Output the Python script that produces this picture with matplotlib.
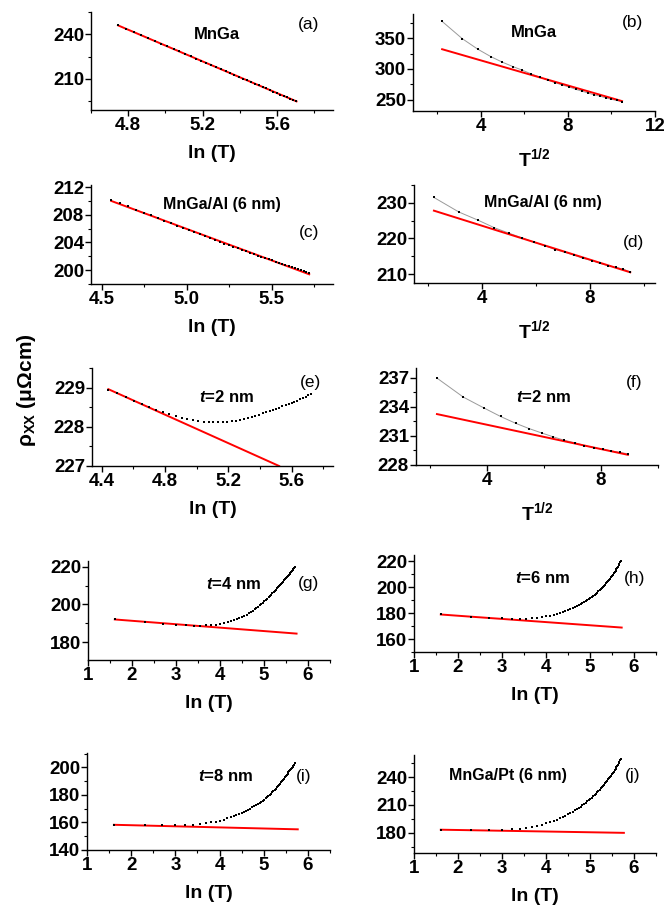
import numpy as np
import matplotlib
matplotlib.use('Agg')
import matplotlib.pyplot as plt
from matplotlib.ticker import MultipleLocator

plt.rcParams.update({
    'font.family': ['Liberation Sans', 'DejaVu Sans'],
    'font.weight': 'bold',
    'font.size': 13,
    'mathtext.fontset': 'custom',
    'mathtext.rm': 'Liberation Sans:bold',
    'mathtext.it': 'Liberation Sans:italic:bold',
    'mathtext.bf': 'Liberation Sans:bold',
    'axes.linewidth': 1.0,
})

# temperatures (K)
T_high = [85, 90, 95, 100, 105, 110, 115, 120, 125, 130, 135, 140, 145, 150,
          155, 160, 165, 170, 175, 180, 185, 190, 195, 200, 205, 210, 215,
          220, 225, 230, 235, 240, 245, 250, 255, 260, 265, 270, 275, 280,
          285, 290, 295, 300, 305]
T_low = [5, 10, 15, 20, 25, 30, 35, 40, 45, 50, 55, 60, 65, 70, 75, 80, 85,
         90, 95, 100, 105, 110]
T_full = [5, 10, 15, 20, 25, 30, 35, 40, 45, 50, 55, 60, 65, 70, 75, 80, 85,
          90, 95, 100, 105, 110, 115, 120, 125, 130, 135, 140, 145, 150, 155,
          160, 165, 170, 175, 180, 185, 190, 195, 200, 205, 210, 215, 220,
          225, 230, 235, 240, 245, 250, 255, 260, 265, 270, 275, 280, 285,
          290, 295, 300]

# (a) MnGa, T = 115..300
rho_a = [246.0, 243.7, 241.6, 239.5, 237.4, 235.5, 233.6, 231.8, 230.1,
         228.4, 226.7, 225.1, 223.6, 222.1, 220.6, 219.2, 217.8, 216.5,
         215.1, 213.9, 212.6, 211.4, 210.2, 209.0, 207.8, 206.7, 205.6,
         204.5, 203.5, 202.4, 201.4, 200.4, 199.4, 198.5, 197.5, 196.6,
         195.7, 194.8]
fit_a = ([4.745, 5.704], [246.0, 194.8])

# (b) MnGa, T = 5..110
rho_b = [377, 349, 332, 320, 311, 304, 298, 292, 287, 282, 278, 274, 271,
         267, 264, 261, 258, 256, 253, 251, 249, 247]
fit_b = ([2.236, 10.488], [332.0, 248.0])

# (c) MnGa/Al (6 nm), T = 95..305
rho_c = [210.2, 209.7, 209.2, 208.7, 208.3, 207.9, 207.5, 207.1, 206.8,
         206.4, 206.1, 205.8, 205.5, 205.2, 204.9, 204.6, 204.3, 204.1,
         203.8, 203.6, 203.4, 203.2, 202.9, 202.7, 202.5, 202.3, 202.1,
         201.9, 201.8, 201.6, 201.4, 201.2, 201.1, 200.9, 200.7, 200.6,
         200.4, 200.3, 200.1, 200.0, 199.9, 199.7, 199.6]
fit_c = ([4.554, 5.720], [210.0, 199.4])

# (d) MnGa/Al (6 nm), T = 5..90
rho_d = [231.5, 227.4, 225.1, 223.0, 221.5, 220.2, 219.0, 218.0, 216.9,
         216.1, 215.3, 214.4, 213.8, 213.0, 212.4, 211.9, 211.4, 210.6]
fit_d = ([2.236, 9.487], [227.8, 210.5])

# (e) t = 2 nm, T = 85..305
rho_e = [228.95, 228.85, 228.75, 228.66, 228.58, 228.50, 228.43, 228.37,
         228.32, 228.27, 228.23, 228.20, 228.17, 228.15, 228.13, 228.12,
         228.11, 228.11, 228.12, 228.13, 228.14, 228.16, 228.18, 228.20,
         228.22, 228.25, 228.28, 228.31, 228.34, 228.37, 228.40, 228.43,
         228.46, 228.49, 228.52, 228.55, 228.58, 228.61, 228.64, 228.67,
         228.71, 228.74, 228.77, 228.80, 228.84]
fit_e = ([4.443, 5.52], [228.96, 227.0])

# (f) t = 2 nm, T = 5..80
rho_f = [236.96, 235.0, 233.9, 233.0, 232.3, 231.75, 231.3, 230.9, 230.55,
         230.3, 230.0, 229.8, 229.6, 229.45, 229.3, 229.15]
fit_f = ([2.236, 8.944], [233.25, 229.05])

# (g)-(j), T = 5..300
rho_g = [192.0, 190.6, 189.6, 189.1, 188.8, 188.7, 188.7, 188.8, 189.0, 189.3,
         189.7, 190.1, 190.5, 191.0, 191.5, 192.0, 192.6, 193.2, 193.9, 194.6,
         195.3, 196.0, 196.7, 197.4, 198.1, 198.8, 199.5, 200.2, 200.9, 201.6,
         202.3, 203.0, 203.7, 204.4, 205.1, 205.8, 206.4, 207.1, 207.8, 208.5,
         209.1, 209.7, 210.3, 210.9, 211.5, 212.1, 212.7, 213.3, 213.9, 214.5,
         215.0, 215.5, 216.0, 216.6, 217.1, 217.6, 218.1, 218.6, 219.1, 219.6]
fit_g = ([1.609, 5.74], [192.0, 184.5])

rho_h = [179.0, 177.4, 176.5, 176.0, 175.8, 175.7, 175.8, 176.1, 176.5, 177.0,
         177.5, 178.1, 178.7, 179.4, 180.1, 180.8, 181.5, 182.3, 183.1, 183.9,
         184.7, 185.5, 186.3, 187.1, 187.9, 188.7, 189.5, 190.3, 191.1, 191.9,
         192.7, 193.5, 194.3, 195.1, 195.9, 196.8, 197.6, 198.5, 199.4, 200.3,
         201.2, 202.1, 203.0, 203.9, 204.8, 205.8, 206.8, 207.8, 208.8, 209.8,
         210.8, 211.8, 212.8, 213.9, 215.0, 216.1, 217.2, 218.3, 219.4, 220.5]
fit_h = ([1.609, 5.72], [179.0, 168.9])

rho_i = [158.2, 158.0, 158.0, 158.0, 158.2, 158.5, 158.9, 159.4, 160.0, 160.6,
         161.3, 162.1, 162.9, 163.7, 164.5, 165.3, 166.1, 166.9, 167.7, 168.5,
         169.3, 170.1, 170.9, 171.7, 172.5, 173.3, 174.1, 174.9, 175.7, 176.5,
         177.4, 178.3, 179.2, 180.1, 181.0, 181.9, 182.8, 183.7, 184.6, 185.5,
         186.4, 187.3, 188.2, 189.1, 190.0, 190.9, 191.8, 192.7, 193.6, 194.5,
         195.4, 196.3, 197.2, 198.0, 198.8, 199.6, 200.4, 201.2, 202.0, 202.8]
fit_i = ([1.609, 5.77], [158.3, 155.0])

rho_j = [183.2, 183.1, 183.1, 183.3, 183.7, 184.3, 185.1, 186.1, 187.3, 188.6,
         190.0, 191.4, 192.8, 194.2, 195.6, 197.0, 198.4, 199.8, 201.2, 202.6,
         204.0, 205.4, 206.8, 208.2, 209.6, 211.0, 212.4, 213.8, 215.2, 216.6,
         218.0, 219.4, 220.8, 222.2, 223.6, 225.0, 226.4, 227.8, 229.2, 230.6,
         232.0, 233.4, 234.8, 236.2, 237.6, 239.0, 240.4, 241.8, 243.2, 244.6,
         246.1, 247.6, 249.1, 250.6, 252.1, 253.6, 255.1, 256.6, 258.1, 259.6]
fit_j = ([1.609, 5.77], [183.2, 179.8])

W, H = 667, 909


def make_ax(fig, left, top, right, bottom):
    return fig.add_axes([left / W, 1 - bottom / H, (right - left) / W,
                         (bottom - top) / H])


def style(ax, xlim, ylim, xmaj, xmin, ymaj, ymin, xlabel):
    ax.set_xlim(*xlim)
    ax.set_ylim(*ylim)
    ax.xaxis.set_major_locator(MultipleLocator(xmaj))
    ax.xaxis.set_minor_locator(MultipleLocator(xmin))
    ax.yaxis.set_major_locator(MultipleLocator(ymaj))
    ax.yaxis.set_minor_locator(MultipleLocator(ymin))
    for s in ['top', 'right']:
        ax.spines[s].set_visible(False)
    ax.tick_params(which='major', direction='out', length=4, width=1,
                   labelsize=13.5, pad=1)
    ax.tick_params(which='minor', direction='out', length=2, width=0.8)
    ax.set_xlabel(xlabel, fontsize=14, fontweight='bold', labelpad=8)


def dots(ax, x, y, line=False, ms=1.6):
    if line:
        ax.plot(x, y, '-', color='#9a9a9a', lw=0.7, zorder=2)
    ax.plot(x, y, 's', color='black', ms=ms, mew=0, zorder=3)


def fit(ax, f):
    ax.plot(f[0], f[1], '-', color='red', lw=1.4, zorder=2.5)


def note(ax, x, y, txt, letter, lx, ly, fs=12):
    ax.text(x, y, txt, transform=ax.transAxes, ha='center', va='center',
            fontsize=fs, fontweight='bold')
    ax.text(lx, ly, letter, transform=ax.transAxes, ha='center',
            va='center', fontsize=12.5, fontweight='normal')


fig = plt.figure(figsize=(W / 100, H / 100), dpi=100)

lnT = r'ln (T)'
sqT = r'$\mathrm{T^{1/2}}$'

# (a)
ax = make_ax(fig, 91, 12, 333, 110)
fit(ax, fit_a)
dots(ax, np.log(T_high[6:44]), rho_a)
style(ax, (4.6, 5.9), (189, 255), 0.4, 0.2, 30, 15, lnT)
note(ax, 0.52, 0.77, 'MnGa', '(a)', 0.9, 0.87)

# (b)
ax = make_ax(fig, 413, 14, 655, 111)
fit(ax, fit_b)
dots(ax, np.sqrt(T_low), rho_b, line=True, ms=1.9)
style(ax, (0.9, 12), (232, 389), 4, 2, 50, 25, sqT)
note(ax, 0.5, 0.81, 'MnGa', '(b)', 0.905, 0.91)

# (c)
ax = make_ax(fig, 91, 185, 333, 284)
fit(ax, fit_c)
dots(ax, np.log(T_high[2:45]), rho_c)
style(ax, (4.435, 5.86), (198, 212.3), 0.5, 0.25, 4, 2, lnT)
note(ax, 0.54, 0.80, 'MnGa/Al (6 nm)', '(c)', 0.9, 0.52, fs=11.5)

# (d)
ax = make_ax(fig, 414, 185, 655, 283)
fit(ax, fit_d)
dots(ax, np.sqrt(T_low[:18]), rho_d, line=True, ms=1.9)
style(ax, (1.5, 10.4), (207.5, 235), 4, 2, 10, 5, sqT)
note(ax, 0.535, 0.82, 'MnGa/Al (6 nm)', '(d)', 0.91, 0.41, fs=11.5)

# (e)
ax = make_ax(fig, 92, 368, 333, 466)
fit(ax, fit_e)
dots(ax, np.log(T_high), rho_e, ms=1.8)
style(ax, (4.34, 5.86), (227, 229.5), 0.4, 0.2, 1, 0.5, lnT)
note(ax, 0.56, 0.70, r'$\mathit{t}$=2 nm', '(e)', 0.905, 0.85)

# (f)
ax = make_ax(fig, 416, 368, 658, 465)
fit(ax, fit_f)
dots(ax, np.sqrt(T_low[:16]), rho_f, line=True, ms=1.9)
style(ax, (1.5, 10.0), (228, 238), 4, 2, 3, 1.5, sqT)
note(ax, 0.525, 0.70, r'$\mathit{t}$=2 nm', '(f)', 0.9, 0.85)

# (g)
ax = make_ax(fig, 88, 561, 330, 660)
fit(ax, fit_g)
dots(ax, np.log(T_full), rho_g, ms=2.1)
style(ax, (1, 6.5), (170.5, 223), 1, 0.5, 20, 10, lnT)
note(ax, 0.6, 0.77, r'$\mathit{t}$=4 nm', '(g)', 0.91, 0.77)

# (h)
ax = make_ax(fig, 414, 555, 656, 652)
fit(ax, fit_h)
dots(ax, np.log(T_full), rho_h, ms=2.1)
style(ax, (1, 6.5), (150, 225), 1, 0.5, 20, 10, lnT)
note(ax, 0.53, 0.76, r'$\mathit{t}$=6 nm', '(h)', 0.91, 0.76)

# (i)
ax = make_ax(fig, 87, 753, 330, 850)
fit(ax, fit_i)
dots(ax, np.log(T_full), rho_i, ms=2.1)
style(ax, (1, 6.5), (140, 210.4), 1, 0.5, 20, 10, lnT)
note(ax, 0.57, 0.76, r'$\mathit{t}$=8 nm', '(i)', 0.89, 0.76)

# (j)
ax = make_ax(fig, 414, 755, 656, 853)
fit(ax, fit_j)
dots(ax, np.log(T_full), rho_j, ms=2.1)
style(ax, (1, 6.5), (158, 264), 1, 0.5, 30, 15, lnT)
note(ax, 0.39, 0.79, 'MnGa/Pt (6 nm)', '(j)', 0.905, 0.79, fs=11.5)

fig.text(27 / W, 1 - 390 / H, r'$\mathrm{ρ_{XX}}$ (μΩcm)', rotation=90,
         ha='center', va='center', fontsize=15, fontweight='bold')

fig.savefig('out.png', dpi=100)
